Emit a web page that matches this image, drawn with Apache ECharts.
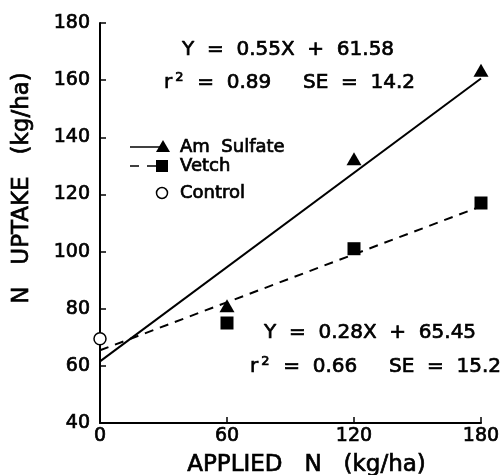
<!DOCTYPE html>
<html><head><meta charset="utf-8">
<script src="https://cdn.jsdelivr.net/npm/echarts@6/dist/echarts.min.js"></script>
<style>html,body{margin:0;padding:0;background:#fff}#c{width:503px;height:475px}</style>
</head><body><div id="c"></div>
<script>
var xTicks = [0, 60, 120, 180];
var amSulfate = [[60, 81], [120, 132.5], [180, 163.5]];
var vetch = [[60, 75], [120, 101], [180, 117]];
var control = [[0, 69.5]];
var amLine = [[0, 61.58], [180, 160.58]];
var vetchLine = [[0, 65.45], [180, 115.85]];
var eqAm = ['Y  =  0.55X  +  61.58', 'r{s|2}  =  0.89     SE  =  14.2'];
var eqVetch = ['Y  =  0.28X  +  65.45', 'r{s|2}  =  0.66     SE  =  15.2'];
var legendNames = ['Am  Sulfate', 'Vetch', 'Control'];

var FONT = 'DejaVu Sans';
var B = {textBorderColor: '#000', textBorderWidth: 0.7};
var G = {stroke: '#000', lineWidth: 0.7};
var chart = echarts.init(document.getElementById('c'));
var txtStyle = Object.assign({fontFamily: FONT, fontSize: 20, fill: '#000', lineHeight: 24, rich: {s: Object.assign({fontSize: 13, lineHeight: 24, verticalAlign: 'top', padding: [0,1,16,3], fontFamily: FONT, fill: '#000'}, G)}}, G);
chart.setOption({
  animation: false,
  backgroundColor: '#fff',
  grid: {left: 100, right: 22, top: 23, bottom: 52, outerBoundsMode: 'none'},
  xAxis: {
    type: 'value', min: 0, max: 180, interval: 60,
    axisLine: {lineStyle: {color: '#000', width: 2}},
    axisTick: {inside: true, length: 6, lineStyle: {color: '#000', width: 1.5}},
    axisLabel: Object.assign({color: '#000', fontFamily: FONT, fontSize: 19, margin: 4}, B),
    splitLine: {show: false},
    name: 'APPLIED   N   (kg/ha)', nameLocation: 'middle', nameGap: 31,
    nameTextStyle: Object.assign({color: '#000', fontFamily: FONT, fontSize: 23, padding: [0, 0, 0, 32]}, B)
  },
  yAxis: {
    type: 'value', min: 40, max: 180, interval: 20,
    axisLine: {lineStyle: {color: '#000', width: 2}},
    axisTick: {inside: true, length: 6, lineStyle: {color: '#000', width: 1.5}},
    axisLabel: Object.assign({color: '#000', fontFamily: FONT, fontSize: 19, margin: 10}, B),
    splitLine: {show: false}
  },
  graphic: [
    {type: 'text', x: 22, y: 188, rotation: Math.PI / 2,
     style: Object.assign({text: 'N   UPTAKE   (kg/ha)', fontFamily: FONT, fontSize: 23, fill: '#000', align: 'center', verticalAlign: 'middle'}, G)},
    {type: 'text', x: 182, y: 50, style: Object.assign({}, txtStyle, {text: eqAm[0], verticalAlign: 'middle'})},
    {type: 'text', x: 164, y: 83, style: Object.assign({}, txtStyle, {text: eqAm[1], verticalAlign: 'middle'})},
    {type: 'text', x: 264, y: 333, style: Object.assign({}, txtStyle, {text: eqVetch[0], verticalAlign: 'middle'})},
    {type: 'text', x: 250, y: 367, style: Object.assign({}, txtStyle, {text: eqVetch[1], verticalAlign: 'middle'})},
    // legend
    {type: 'line', shape: {x1: 130, y1: 147, x2: 160, y2: 147}, style: {stroke: '#000', lineWidth: 1.5}},
    {type: 'polygon', shape: {points: [[156, 152], [170, 152], [163, 140]]}, style: {fill: '#000'}},
    {type: 'text', x: 180, y: 147, style: Object.assign({text: legendNames[0], fontFamily: FONT, fontSize: 18, fill: '#000', verticalAlign: 'middle'}, G)},
    {type: 'line', shape: {x1: 130, y1: 166, x2: 158, y2: 166}, style: {stroke: '#000', lineWidth: 1.5, lineDash: [9, 8]}},
    {type: 'rect', shape: {x: 156, y: 160, width: 12, height: 12}, style: {fill: '#000'}},
    {type: 'text', x: 180, y: 166, style: Object.assign({text: legendNames[1], fontFamily: FONT, fontSize: 18, fill: '#000', verticalAlign: 'middle'}, G)},
    {type: 'circle', shape: {cx: 162, cy: 193, r: 5.5}, style: {fill: 'none', stroke: '#000', lineWidth: 1.5}},
    {type: 'text', x: 180, y: 193, style: Object.assign({text: legendNames[2], fontFamily: FONT, fontSize: 18, fill: '#000', verticalAlign: 'middle'}, G)}
  ],
  series: [
    {type: 'line', data: amLine, symbol: 'none', lineStyle: {color: '#000', width: 2}, z: 2},
    {type: 'line', data: vetchLine, symbol: 'none', lineStyle: {color: '#000', width: 2, type: [9, 7]}, z: 2},
    {type: 'scatter', name: legendNames[0], data: amSulfate, symbol: 'triangle', symbolSize: [15, 13], itemStyle: {color: '#000', opacity: 1}, z: 3},
    {type: 'scatter', name: legendNames[1], data: vetch, symbol: 'rect', symbolSize: 13, itemStyle: {color: '#000', opacity: 1}, z: 3},
    {type: 'scatter', name: legendNames[2], data: control, symbol: 'circle', symbolSize: 12, itemStyle: {color: '#fff', borderColor: '#000', borderWidth: 1.5, opacity: 1}, z: 3}
  ]
});
</script></body></html>
